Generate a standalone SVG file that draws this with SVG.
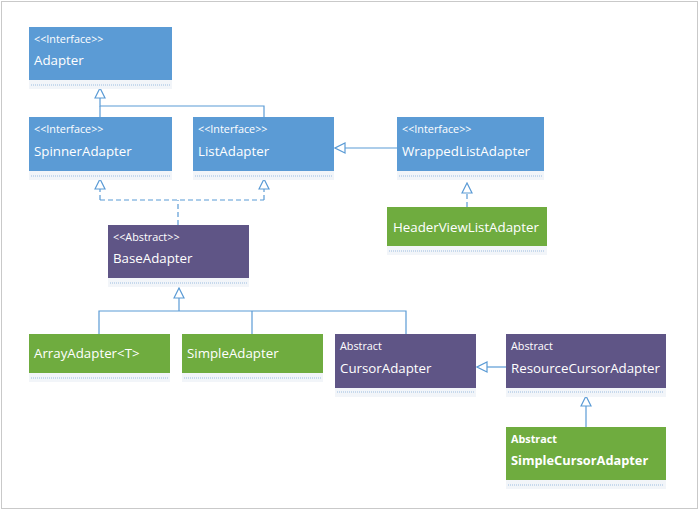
<svg xmlns="http://www.w3.org/2000/svg" width="700" height="512" viewBox="0 0 700 512">
<style>
.frame{fill:#fff;stroke:#c9c9c9;stroke-width:1}
.blue{fill:#5b9bd5}
.purple{fill:#5f5586}
.green{fill:#6fac3f}
.band{fill:#f2f5f9}
.dot{stroke:#9cbde0;stroke-width:1;stroke-dasharray:1 1;fill:none}
.st{font-family:"Open Sans","Noto Sans",sans-serif;font-size:10.8px;fill:#fff}
.nm{font-family:"Open Sans","Noto Sans",sans-serif;font-size:13.3px;fill:#fff}
.b{font-weight:bold}
.nb{font-size:12.8px}
.ln{fill:none;stroke:#5b9bd5;stroke-width:1.2}
.dash{stroke-dasharray:5 3}
</style>
<defs>
<marker id="tri" viewBox="0 0 12 12" refX="11" refY="6" markerWidth="12" markerHeight="12" markerUnits="userSpaceOnUse" orient="auto">
<path d="M1,1 L11,6 L1,11 Z" fill="#fff" stroke="#5b9bd5" stroke-width="1.2" stroke-dasharray="none"/>
</marker>
</defs>
<rect class="frame" x="1.5" y="1.5" width="696" height="507"/>

<g id="connectors">
<path class="ln" d="M264,117 V106 H100 V88" marker-end="url(#tri)"/>
<path class="ln" d="M100,117 V106"/>
<path class="ln" d="M397,148 H335" marker-end="url(#tri)"/>
<path class="ln dash" d="M178,225 V200"/>
<path class="ln dash" d="M100,200 H264"/>
<path class="ln dash" d="M100,200 V179" marker-end="url(#tri)"/>
<path class="ln dash" d="M264,200 V179" marker-end="url(#tri)"/>
<path class="ln dash" d="M467,207 V183" marker-end="url(#tri)"/>
<path class="ln" d="M99,334 V311 H406 V334"/>
<path class="ln" d="M252,334 V311"/>
<path class="ln" d="M179,311 V288" marker-end="url(#tri)"/>
<path class="ln" d="M506,367 H477" marker-end="url(#tri)"/>
<path class="ln" d="M586,427 V396" marker-end="url(#tri)"/>
</g>

<g id="Adapter">
<rect class="band" x="29" y="80" width="143" height="9"/>
<line class="dot" x1="31" y1="85" x2="170" y2="85"/>
<rect class="blue" x="29" y="27" width="143" height="53"/>
<text class="st" x="34" y="43">&lt;&lt;Interface&gt;&gt;</text>
<text class="nm" x="34" y="65">Adapter</text>
</g>

<g id="SpinnerAdapter">
<rect class="band" x="29" y="171" width="143" height="9"/>
<line class="dot" x1="31" y1="176" x2="170" y2="176"/>
<rect class="blue" x="29" y="117" width="143" height="54"/>
<text class="st" x="34" y="133">&lt;&lt;Interface&gt;&gt;</text>
<text class="nm" x="34" y="156">SpinnerAdapter</text>
</g>

<g id="ListAdapter">
<rect class="band" x="193" y="171" width="141" height="9"/>
<line class="dot" x1="195" y1="176" x2="332" y2="176"/>
<rect class="blue" x="193" y="117" width="141" height="54"/>
<text class="st" x="198" y="133">&lt;&lt;Interface&gt;&gt;</text>
<text class="nm" x="198" y="156">ListAdapter</text>
</g>

<g id="WrappedListAdapter">
<rect class="band" x="397" y="171" width="147" height="9"/>
<line class="dot" x1="399" y1="176" x2="542" y2="176"/>
<rect class="blue" x="397" y="117" width="147" height="54"/>
<text class="st" x="402" y="133">&lt;&lt;Interface&gt;&gt;</text>
<text class="nm" x="402" y="156">WrappedListAdapter</text>
</g>

<g id="HeaderViewListAdapter">
<rect class="band" x="387" y="246" width="160" height="9"/>
<line class="dot" x1="389" y1="251" x2="545" y2="251"/>
<rect class="green" x="387" y="207" width="160" height="39"/>
<text class="nm" x="393" y="232">HeaderViewListAdapter</text>
</g>

<g id="BaseAdapter">
<rect class="band" x="108" y="278" width="141" height="9"/>
<line class="dot" x1="110" y1="283" x2="247" y2="283"/>
<rect class="purple" x="108" y="225" width="141" height="53"/>
<text class="st" x="113" y="241">&lt;&lt;Abstract&gt;&gt;</text>
<text class="nm" x="113" y="263">BaseAdapter</text>
</g>

<g id="ArrayAdapter">
<rect class="band" x="29" y="373" width="141" height="9"/>
<line class="dot" x1="31" y1="378" x2="168" y2="378"/>
<rect class="green" x="29" y="334" width="141" height="39"/>
<text class="nm" x="34" y="358">ArrayAdapter&lt;T&gt;</text>
</g>

<g id="SimpleAdapter">
<rect class="band" x="182" y="373" width="141" height="9"/>
<line class="dot" x1="184" y1="378" x2="321" y2="378"/>
<rect class="green" x="182" y="334" width="141" height="39"/>
<text class="nm" x="187" y="358">SimpleAdapter</text>
</g>

<g id="CursorAdapter">
<rect class="band" x="335" y="388" width="141" height="9"/>
<line class="dot" x1="337" y1="392" x2="474" y2="392"/>
<rect class="purple" x="335" y="334" width="141" height="54"/>
<text class="st" x="340" y="350">Abstract</text>
<text class="nm" x="340" y="373">CursorAdapter</text>
</g>

<g id="ResourceCursorAdapter">
<rect class="band" x="506" y="388" width="160" height="9"/>
<line class="dot" x1="508" y1="392" x2="664" y2="392"/>
<rect class="purple" x="506" y="334" width="160" height="54"/>
<text class="st" x="511" y="350">Abstract</text>
<text class="nm" x="511" y="373">ResourceCursorAdapter</text>
</g>

<g id="SimpleCursorAdapter">
<rect class="band" x="506" y="480" width="160" height="9"/>
<line class="dot" x1="508" y1="485" x2="664" y2="485"/>
<rect class="green" x="506" y="427" width="160" height="53"/>
<text class="st b" x="511" y="443">Abstract</text>
<text class="nm b nb" x="511" y="465">SimpleCursorAdapter</text>
</g>
</svg>
